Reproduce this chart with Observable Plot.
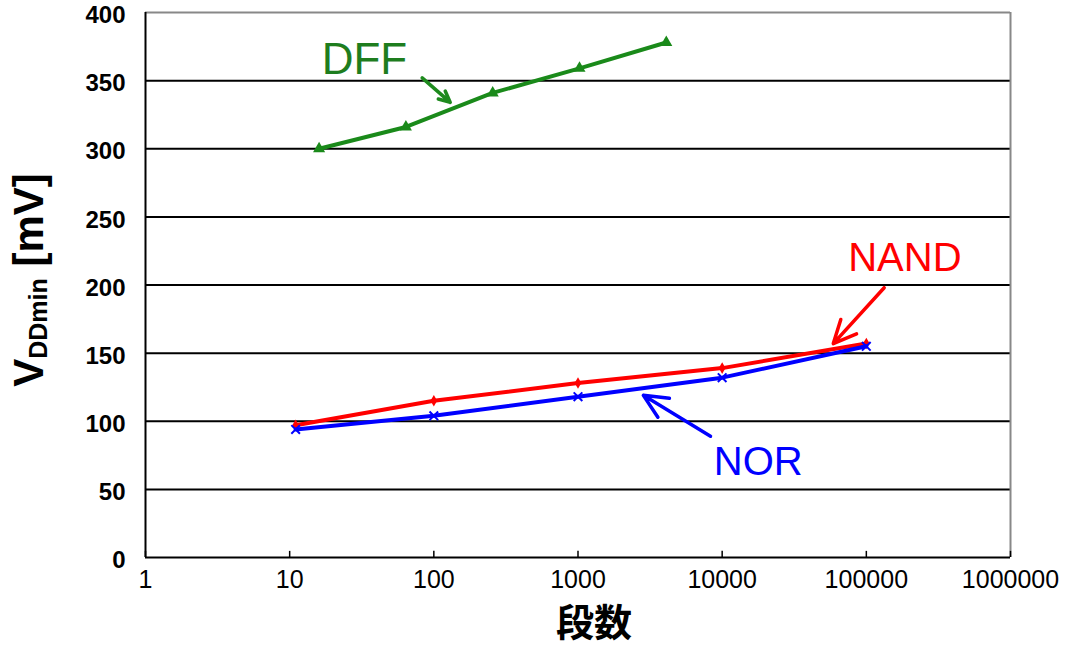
<!DOCTYPE html>
<html><head><meta charset="utf-8">
<script src="https://cdn.jsdelivr.net/npm/d3@7"></script>
<script src="https://cdn.jsdelivr.net/npm/@observablehq/plot@0.6"></script>
<style>
body{margin:0;background:#fff;}
#chart{position:absolute;left:0;top:0;}
</style></head>
<body><div id="chart"></div>
<script>
// Data
const dffStages = [16, 64, 256, 1024, 4096];
const dffVdd = [300, 316, 341, 359, 378];
const nandStages = [11, 100, 1000, 10000, 100000];
const nandVdd = [97, 115, 128, 139, 157];
const norStages = [11, 100, 1000, 10000, 100000];
const norVdd = [94, 104, 118, 132, 155];
const xTicks = [1, 10, 100, 1000, 10000, 100000, 1000000];
const yTicks = [0, 50, 100, 150, 200, 250, 300, 350, 400];
const gridY = [50, 100, 150, 200, 250, 300, 350];
// annotations
const labels = [
  {name: "DFF", x: 33, y: 365, color: "#1e7d1e"},
  {name: "NAND", x: 185000, y: 220, color: "#ff0000"},
  {name: "NOR", x: 17800, y: 70, color: "#0000ff"}
];
const arrows = [
  {x1: 83, y1: 352, x2: 130, y2: 334, color: "#1e8a1e"},
  {x1: 133000, y1: 198, x2: 59000, y2: 157, color: "#ff0000"},
  {x1: 8300, y1: 89, x2: 2840, y2: 119, color: "#0000ff"}
];

const toRows = (xs, ys) => xs.map((x, i) => ({x, y: ys[i]}));
const dff = toRows(dffStages, dffVdd);
const nand = toRows(nandStages, nandVdd);
const nor = toRows(norStages, norVdd);

const sans = "'Liberation Sans', Arial, sans-serif";

const plot = Plot.plot({
  width: 1075,
  height: 651,
  marginLeft: 145,
  marginRight: 65,
  marginTop: 12,
  marginBottom: 94,
  style: {fontFamily: sans, background: "white"},
  x: {type: "log", domain: [1, 1000000]},
  y: {domain: [0, 400]},
  marks: [
    Plot.ruleY(gridY, {stroke: "black", strokeWidth: 2}),
    Plot.ruleY([400], {stroke: "#888", strokeWidth: 2}),
    Plot.ruleX([1000000], {stroke: "#888", strokeWidth: 2}),
    Plot.ruleX([1], {stroke: "black", strokeWidth: 2}),
    Plot.ruleY([0], {stroke: "black", strokeWidth: 2}),
    Plot.ruleX(xTicks, {y1: 0, y2: 4.5, stroke: "black", strokeWidth: 1.5}),
    Plot.axisY({ticks: yTicks, tickSize: 0, tickPadding: 20, dy: 3, fontSize: 24, fontWeight: "bold", fontFamily: sans, label: null}),
    Plot.axisX({ticks: xTicks, tickSize: 0, tickPadding: 13, fontSize: 25, fontFamily: sans, tickFormat: d3.format("d"), label: null}),
    Plot.line(dff, {x: "x", y: "y", stroke: "#1a8a1a", strokeWidth: 4}),
    Plot.dot(dff, {x: "x", y: "y", symbol: "triangle", r: 4.5, fill: "#1a8a1a"}),
    Plot.line(nand, {x: "x", y: "y", stroke: "#ff0000", strokeWidth: 4}),
    Plot.dot(nand, {x: "x", y: "y", symbol: "diamond", r: 3.5, fill: "#ff0000"}),
    Plot.line(nor, {x: "x", y: "y", stroke: "#0000ff", strokeWidth: 4}),
    Plot.dot(nor, {x: "x", y: "y", symbol: "times", r: 4, stroke: "#0000ff", strokeWidth: 2}),
    Plot.arrow(arrows, {x1: "x1", y1: "y1", x2: "x2", y2: "y2", stroke: "color", strokeWidth: 3.5, headLength: 14, headAngle: 50}),
    Plot.text(labels.slice(0, 1), {x: "x", y: "y", text: "name", fill: "color", fontSize: 44, fontFamily: sans}),
    Plot.text(labels.slice(1), {x: "x", y: "y", text: "name", fill: "color", fontSize: 40, fontFamily: sans})
  ]
});
document.getElementById("chart").appendChild(plot);

// axis titles (with subscript)
const svg = d3.select(plot);
const yl = svg.append("text")
  .attr("transform", "translate(43,280) rotate(-90)")
  .attr("text-anchor", "middle")
  .attr("font-family", sans)
  .attr("font-weight", "bold")
  .attr("font-size", 42)
  .attr("fill", "black");
yl.append("tspan").text("V");
yl.append("tspan").attr("font-size", 25).attr("dy", 4).text("DDmin");
yl.append("tspan").attr("dy", -4).text(" [mV]");

svg.append("text")
  .attr("x", 594).attr("y", 636)
  .attr("text-anchor", "middle")
  .attr("font-family", "'Noto Sans CJK JP', sans-serif")
  .attr("font-weight", "bold")
  .attr("font-size", 38)
  .attr("fill", "black")
  .text("段数");
</script>
</body></html>
